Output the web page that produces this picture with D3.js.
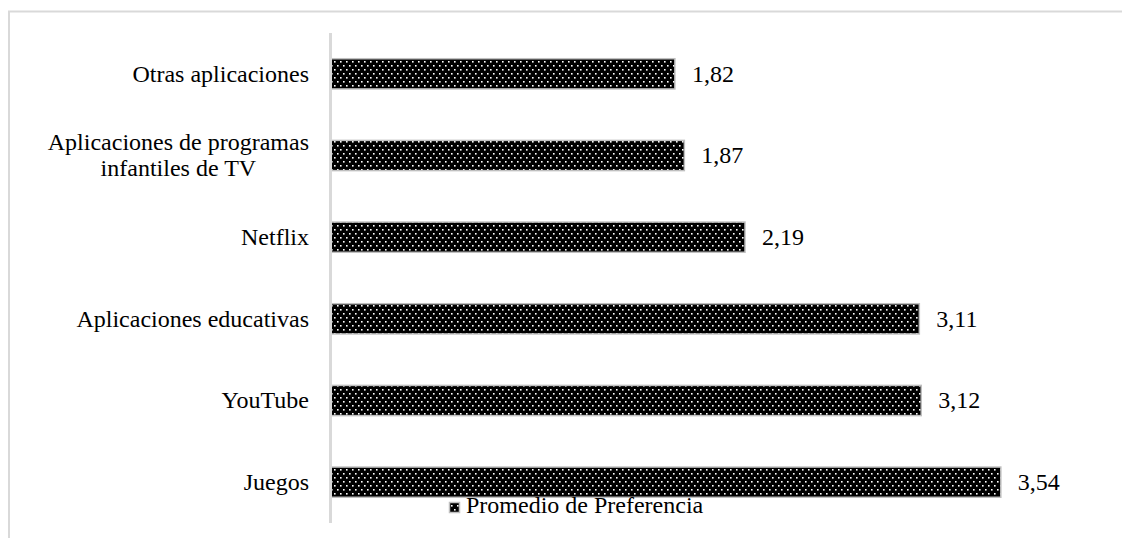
<!DOCTYPE html>
<html><head><meta charset="utf-8">
<script src="https://cdn.jsdelivr.net/npm/d3@7"></script>
<style>body{margin:0;background:#fff}svg{display:block}</style>
</head><body><svg id="c" width="1122" height="538"></svg>
<script>
const categories = ["Otras aplicaciones", "Aplicaciones de programas infantiles de TV", "Netflix", "Aplicaciones educativas", "YouTube", "Juegos"];
const labelLines = [["Otras aplicaciones"], ["Aplicaciones de programas", "infantiles de TV"], ["Netflix"], ["Aplicaciones educativas"], ["YouTube"], ["Juegos"]];
const values = [1.82, 1.87, 2.19, 3.11, 3.12, 3.54];
const valueLabels = ["1,82", "1,87", "2,19", "3,11", "3,12", "3,54"];
const seriesName = "Promedio de Preferencia";

const FONT = "'Liberation Serif', 'Times New Roman', 'DejaVu Serif', serif";
const svg = d3.select("#c");
const defs = svg.append("defs");
const pat = defs.append("pattern").attr("id","dots").attr("patternUnits","userSpaceOnUse")
  .attr("width",6).attr("height",8);
pat.append("rect").attr("width",6).attr("height",8).attr("fill","#000");
pat.append("rect").attr("x",1).attr("y",1).attr("width",1.6).attr("height",1.6).attr("fill","#fff");
pat.append("rect").attr("x",4).attr("y",5).attr("width",1.6).attr("height",1.6).attr("fill","#fff");

svg.append("rect").attr("x",9).attr("y",11.5).attr("width",1200).attr("height",600)
  .attr("fill","none").attr("stroke","#d9d9d9").attr("stroke-width",2);

const y = d3.scaleBand().domain(categories).range([33,523]).paddingInner(0.63).paddingOuter(0.315);
const x = d3.scaleLinear().domain([0,4]).range([330,1088]);

svg.selectAll("rect.bar").data(values).enter().append("rect").attr("class","bar")
  .attr("x", x(0)+1).attr("y",(d,i)=>y(categories[i]))
  .attr("width",d=>x(d)-x(0)-1).attr("height",y.bandwidth())
  .attr("fill","url(#dots)").attr("stroke","#bfbfbf").attr("stroke-width",1.5);

svg.append("line").attr("x1",330.5).attr("x2",330.5).attr("y1",33).attr("y2",523)
  .attr("stroke","#d9d9d9").attr("stroke-width",3);

const fs = 24;
labelLines.forEach((lines,i)=>{
  const cy = y(categories[i]) + y.bandwidth()/2;
  const g = svg.append("g");
  const lh = 26;
  const texts = lines.map((l,k)=>g.append("text").attr("font-family",FONT).attr("font-size",fs).attr("fill","#000")
     .attr("y", cy + (k-(lines.length-1)/2)*lh).attr("dy","0.33em").text(l));
  const widths = texts.map(t=>t.node().getComputedTextLength());
  const maxW = d3.max(widths);
  const cx = 309 - maxW/2;
  texts.forEach(t=>t.attr("x",cx).attr("text-anchor","middle"));
});

svg.selectAll("text.val").data(values).enter().append("text").attr("class","val")
  .attr("font-family",FONT).attr("fill","#000")
  .attr("x",d=>x(d)+17).attr("y",(d,i)=>y(categories[i])+y.bandwidth()/2)
  .attr("dy","0.33em").attr("font-size",fs).text((d,i)=>valueLabels[i]);

svg.append("rect").attr("x",449.5).attr("y",502.5).attr("width",10).attr("height",10)
  .attr("fill","url(#dots)").attr("stroke","#bfbfbf").attr("stroke-width",1.5);
svg.append("text").attr("font-family",FONT).attr("fill","#000").attr("x",466).attr("y",505).attr("dy","0.33em").attr("font-size",fs).text(seriesName);
</script></body></html>
